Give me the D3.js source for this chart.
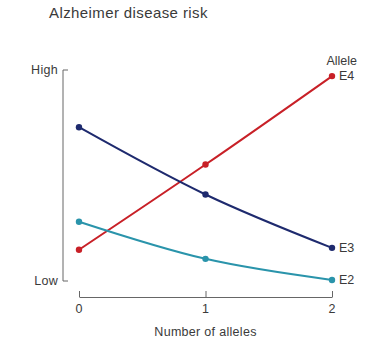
<!DOCTYPE html>
<html><head><meta charset="utf-8">
<script src="https://cdn.jsdelivr.net/npm/d3@7"></script>
<style>body{margin:0;background:#fff}text{font-family:"Liberation Sans",Arial,sans-serif;fill:#3a3a3a}</style>
</head><body><svg id="c" width="373" height="344"></svg>
<script>
const alleleCounts = [0, 1, 2];
const seriesNames = ["E4", "E3", "E2"];
const e4Risk = [0.148, 0.552, 0.971];
const e3Risk = [0.729, 0.41, 0.157];
const e2Risk = [0.281, 0.105, 0.005];
const seriesColors = ["#c82027", "#1e2a6e", "#2a94ab"];
const yTickLabels = ["Low", "High"];

const svg = d3.select("#c");
const x = d3.scaleLinear().domain([0, 2]).range([79, 332]);
const y = d3.scaleLinear().domain([0, 1]).range([281, 70]);
const series = [e4Risk, e3Risk, e2Risk];

svg.append("text").attr("x", 49).attr("y", 18).attr("font-size", 15).attr("letter-spacing", 0.4).text("Alzheimer disease risk");

// Y axis bracket
const yAxis = d3.axisRight(y).tickValues([0, 1]).tickSize(5).tickFormat("");
const yg = svg.append("g").attr("transform", "translate(63,0)").call(yAxis);
yg.select(".domain").attr("stroke", "#666").attr("d", `M5,${y(1)}H0V${y(0)}H5`);
yg.selectAll(".tick line").remove();
yTickLabels.forEach((t, i) => {
  svg.append("text").attr("x", 58).attr("y", y(i)).attr("dy", "0.35em").attr("text-anchor", "end").attr("font-size", 12.5).attr("letter-spacing", 0.3).text(t);
});

// X axis
const xAxis = d3.axisTop(x).tickValues(alleleCounts).tickSize(6).tickSizeOuter(0).tickFormat("");
const xg = svg.append("g").attr("transform", "translate(0,297)").call(xAxis);
xg.select(".domain").attr("stroke", "#666");
xg.selectAll(".tick line").attr("stroke", "#666");
alleleCounts.forEach(v => {
  svg.append("text").attr("x", x(v)).attr("y", 313).attr("text-anchor", "middle").attr("font-size", 12.5).text(v);
});
svg.append("text").attr("x", x(1)).attr("y", 336).attr("text-anchor", "middle").attr("font-size", 12.5).attr("letter-spacing", 0.3).text("Number of alleles");

const line = d3.line().x((d, i) => x(alleleCounts[i])).y(d => y(d)).curve(d3.curveMonotoneX);
series.forEach((s, k) => {
  svg.append("path").attr("d", line(s)).attr("fill", "none").attr("stroke", seriesColors[k]).attr("stroke-width", 2);
  svg.selectAll(null).data(s).enter().append("circle")
    .attr("cx", (d, i) => x(alleleCounts[i])).attr("cy", d => y(d)).attr("r", 3.2).attr("fill", seriesColors[k]);
  svg.append("text").attr("x", x(2) + 7).attr("y", y(s[2])).attr("dy", "0.35em").attr("font-size", 12.5).text(seriesNames[k]);
});
svg.append("text").attr("x", 357).attr("y", 65).attr("text-anchor", "end").attr("font-size", 12.5).text("Allele");
</script></body></html>
